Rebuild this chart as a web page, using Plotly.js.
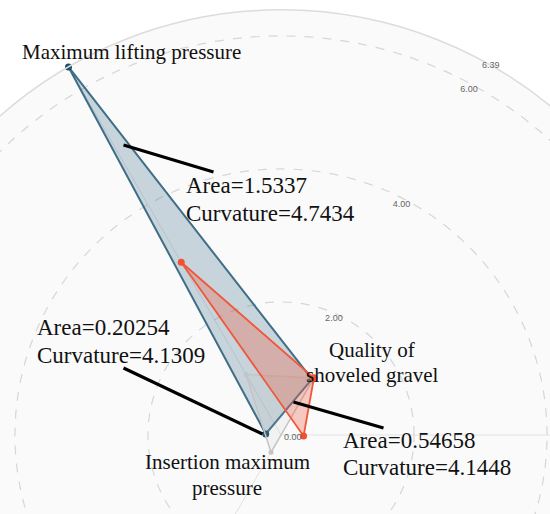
<!DOCTYPE html>
<html>
<head>
<meta charset="utf-8">
<script src="https://cdn.plot.ly/plotly-3.0.1.min.js"></script>
<style>
html,body{margin:0;padding:0;background:#fff;}
#wrap{position:relative;width:550px;height:514px;overflow:hidden;background:#fff;}
#chart{position:absolute;left:-169.5px;top:-15px;width:900px;height:900px;}
</style>
</head>
<body>
<div id="wrap"><div id="chart"></div></div>
<script>
// Axis categories (order: quality, lifting, insertion)
const categories = ['Quality of shoveled gravel', 'Maximum lifting pressure', 'Insertion maximum pressure'];
// Blue series (Area=1.5337, Curvature=4.7434)
const blueR = [0.96, 6.39, 0.23];
const blueTheta = [61, 120, 176];
// Red series (Area=0.54658, Curvature=4.1448)
const redR = [0.99, 3.0, 0.34];
const redTheta = [60, 120, 357.5];
// Gray series (Area=0.20254, Curvature=4.1309)
const grayR = [0.99, 1.05, 0.30];
const grayTheta = [60, 120, 240];
// Radial ticks
const radialTicks = [0, 2, 4, 6, 6.39];
const radialTickText = ['', '2.00', '4.00', '6.00', ''];
const radialEndLabels = ['0.00', '6.39'];
const radialMax = 6.39;
// Annotation texts
const blueLabel = ['Area=1.5337', 'Curvature=4.7434'];
const grayLabel = ['Area=0.20254', 'Curvature=4.1309'];
const redLabel = ['Area=0.54658', 'Curvature=4.1448'];

const W = 900, H = 900, OFFX = -169.5, OFFY = -15;
function px(x){ return (x - OFFX) / W; }
function py(y){ return 1 - (y - OFFY) / H; }

function closed(a){ return a.concat([a[0]]); }

const traces = [
  {
    type: 'scatterpolar', r: closed(blueR), theta: closed(blueTheta),
    fill: 'toself', fillcolor: 'rgba(63,110,135,0.27)',
    mode: 'lines+markers',
    line: {color: '#3f6e87', width: 2},
    marker: {color: '#1d4f67', size: 7},
    hoverinfo: 'skip'
  },
  {
    type: 'scatterpolar', r: closed(grayR), theta: closed(grayTheta),
    fill: 'toself', fillcolor: 'rgba(190,190,190,0.12)',
    mode: 'lines+markers',
    line: {color: '#c4c4c4', width: 1.5},
    marker: {color: '#c4c4c4', size: 5},
    hoverinfo: 'skip'
  },
  {
    type: 'scatterpolar', r: closed(redR), theta: closed(redTheta),
    fill: 'toself', fillcolor: 'rgba(240,85,55,0.3)',
    mode: 'lines+markers',
    line: {color: '#f0583c', width: 1.8},
    marker: {color: '#f2502f', size: 7},
    hoverinfo: 'skip'
  }
];

const serif = 'Liberation Serif, Times New Roman, serif';
const sans = 'Liberation Sans, Arial, sans-serif';
function ann(text, x, y, size, anchor){
  return {text: text, x: px(x), y: py(y), xref: 'paper', yref: 'paper',
    xanchor: anchor || 'left', yanchor: 'middle', showarrow: false,
    font: {family: serif, size: size, color: '#111'}};
}
function tickAnn(text, x, y){
  return {text: text, x: px(x), y: py(y), xref: 'paper', yref: 'paper',
    xanchor: 'center', yanchor: 'middle', showarrow: false,
    font: {family: sans, size: 9, color: '#666'}};
}
function seg(x0, y0, x1, y1){
  return {type: 'line', xref: 'paper', yref: 'paper',
    x0: px(x0), y0: py(y0), x1: px(x1), y1: py(y1),
    line: {color: '#000', width: 3.2}};
}

const annotations = [
  tickAnn(radialEndLabels[0], 292, 437),
  tickAnn(radialEndLabels[1], 490, 65),
  ann(categories[1], 19, 52, 21),
  ann('Quality of', 371.5, 350, 21, 'center'),
  ann('shoveled gravel', 371.5, 375, 21, 'center'),
  ann('Insertion maximum', 226.5, 462, 21, 'center'),
  ann('pressure', 226.5, 488, 21, 'center'),
  ann(blueLabel[0], 183, 185, 23),
  ann(blueLabel[1], 183, 213, 23),
  ann(grayLabel[0], 34, 327, 23),
  ann(grayLabel[1], 34, 355, 23),
  ann(redLabel[0], 340, 440, 23),
  ann(redLabel[1], 340, 468, 23)
];

const shapes = [
  seg(123, 145, 213, 172),
  seg(123, 368, 262, 434),
  seg(293, 402, 383, 428)
];

const layout = {
  width: W, height: H,
  margin: {l: 0, r: 0, t: 0, b: 0},
  paper_bgcolor: '#ffffff',
  showlegend: false,
  polar: {
    domain: {x: [25/900, 875/900], y: [25/900, 875/900]},
    bgcolor: '#fafafa',
    radialaxis: {
      range: [0, radialMax], angle: 59.5, tickangle: 59.5, side: 'counterclockwise',
      tickvals: radialTicks, ticktext: radialTickText,
      tickfont: {family: sans, size: 9, color: '#666'},
      ticks: '', showline: false,
      gridcolor: '#d6d6d6', griddash: 'dash', gridwidth: 1.2
    },
    angularaxis: {
      tickmode: 'array', tickvals: [0, 120, 240],
      showticklabels: false, ticks: '',
      gridcolor: '#e2e2e2', gridwidth: 1,
      showline: true, linecolor: '#dcdcdc', linewidth: 1.5
    }
  },
  annotations: annotations,
  shapes: shapes
};

Plotly.newPlot('chart', traces, layout, {displayModeBar: false, staticPlot: true});
</script>
</body>
</html>
